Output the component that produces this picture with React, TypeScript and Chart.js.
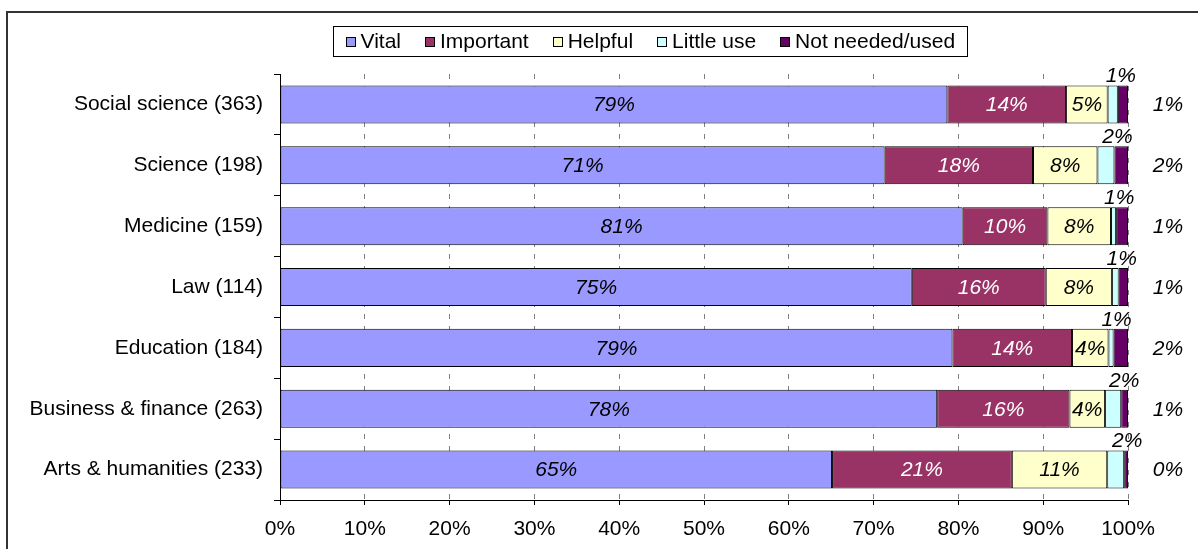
import { useEffect, useRef } from 'react';
import { Chart, registerables } from 'chart.js';

Chart.register(...registerables);

const categories = [
  'Social science (363)',
  'Science (198)',
  'Medicine (159)',
  'Law (114)',
  'Education (184)',
  'Business & finance (263)',
  'Arts & humanities (233)',
];
const seriesNames = ['Vital', 'Important', 'Helpful', 'Little use', 'Not needed/used'];
const vital = [78.7, 71.3, 80.5, 74.5, 79.3, 77.5, 65.1];
const important = [14.0, 17.5, 10.0, 15.8, 14.1, 15.6, 21.2];
const helpful = [4.9, 7.6, 7.5, 7.8, 4.3, 4.2, 11.25];
const littleUse = [1.2, 2.0, 0.6, 0.8, 0.6, 1.9, 2.0];
const notNeeded = [1.2, 1.6, 1.4, 1.1, 1.7, 0.8, 0.45];
const xTicks = [0, 10, 20, 30, 40, 50, 60, 70, 80, 90, 100];

const seriesValues = [vital, important, helpful, littleUse, notNeeded];
const seriesColors = ['#9999FF', '#993366', '#FFFFCC', '#CCFFFF', '#660066'];
const labelColors = ['#000000', '#FFFFFF', '#000000', '#000000', '#000000'];

const FONT = '"Liberation Sans", Arial, Helvetica, sans-serif';
const FONT_SIZE = 21;
const W = 1198;
const H = 549;

// White background plus the outer frame (top and left edges are visible).
const framePlugin = {
  id: 'frame',
  beforeDraw(chart: any) {
    const ctx = chart.ctx;
    ctx.save();
    ctx.fillStyle = '#ffffff';
    ctx.fillRect(0, 0, chart.width, chart.height);
    ctx.strokeStyle = '#333333';
    ctx.lineWidth = 2;
    ctx.strokeRect(7, 12, chart.width + 40, chart.height + 40);
    ctx.restore();
  },
};

// Boxed legend drawn across the top.
const legendPlugin = {
  id: 'boxLegend',
  afterDraw(chart: any) {
    const ctx = chart.ctx;
    ctx.save();
    ctx.font = `${FONT_SIZE}px ${FONT}`;
    const marker = 10;
    const markerGap = 5;
    const itemGap = 24;
    const padX = 12;
    const widths = seriesNames.map((n) => ctx.measureText(n).width);
    const content =
      widths.reduce((a, b) => a + b, 0) + seriesNames.length * (marker + markerGap) + (seriesNames.length - 1) * itemGap;
    const boxW = content + padX * 2;
    const cx = 649.5;
    const left = Math.round(cx - boxW / 2) + 0.5;
    const top = 26.5;
    const boxH = 30;
    ctx.strokeStyle = '#000000';
    ctx.lineWidth = 1;
    ctx.strokeRect(left, top, Math.round(boxW), boxH);
    let x = left + padX;
    const cy = top + boxH / 2;
    seriesNames.forEach((name, i) => {
      const mx = Math.round(x);
      const my = Math.round(cy - marker / 2);
      ctx.fillStyle = seriesColors[i];
      ctx.fillRect(mx, my, marker, marker);
      ctx.strokeStyle = '#000000';
      ctx.strokeRect(mx + 0.5, my + 0.5, marker - 1, marker - 1);
      x += marker + markerGap;
      ctx.fillStyle = '#000000';
      ctx.textBaseline = 'middle';
      ctx.textAlign = 'left';
      ctx.fillText(name, x, cy + 1);
      x += widths[i] + itemGap;
    });
    ctx.restore();
  },
};

// Percentage labels: inside for the first three series, above the bar for
// "Little use", and to the right of the plot for "Not needed/used".
const valueLabelPlugin = {
  id: 'valueLabels',
  afterDatasetsDraw(chart: any) {
    const ctx = chart.ctx;
    const area = chart.chartArea;
    ctx.save();
    ctx.font = `italic ${FONT_SIZE}px ${FONT}`;
    ctx.textAlign = 'center';
    ctx.textBaseline = 'middle';
    chart.data.datasets.forEach((ds: any, di: number) => {
      const meta = chart.getDatasetMeta(di);
      meta.data.forEach((bar: any, i: number) => {
        const v = ds.data[i] as number;
        const text = `${Math.round(v)}%`;
        const { x, y, base, height } = bar.getProps(['x', 'y', 'base', 'height'], true);
        ctx.fillStyle = labelColors[di];
        if (di < 3) {
          ctx.fillText(text, (x + base) / 2, y + 1);
        } else if (di === 3) {
          ctx.fillText(text, x + 3, y - height / 2 - 9);
        } else {
          ctx.fillText(text, area.right + 40, y + 1);
        }
      });
    });
    ctx.restore();
  },
};

export default function App() {
  const canvasRef = useRef<HTMLCanvasElement | null>(null);

  useEffect(() => {
    const canvas = canvasRef.current;
    if (!canvas) return;
    const chart = new Chart(canvas, {
      type: 'bar',
      data: {
        labels: categories,
        datasets: seriesNames.map((name, i) => ({
          label: name,
          data: seriesValues[i],
          backgroundColor: seriesColors[i],
          borderColor: '#000000',
          borderWidth: 1,
          borderSkipped: false,
          categoryPercentage: 0.625,
          barPercentage: 1,
        })),
      },
      options: {
        indexAxis: 'y',
        responsive: false,
        animation: false,
        events: [],
        layout: { padding: { top: 74, right: 70, bottom: 0, left: 0 } },
        plugins: {
          legend: { display: false },
          tooltip: { enabled: false },
          title: { display: false },
        },
        scales: {
          x: {
            stacked: true,
            min: 0,
            max: 100,
            afterBuildTicks: (scale: any) => {
              scale.ticks = xTicks.map((v) => ({ value: v }));
            },
            afterFit: (scale: any) => {
              scale.height = 49;
            },
            ticks: {
              color: '#000000',
              font: { family: FONT, size: FONT_SIZE },
              padding: 12,
              maxRotation: 0,
              callback: (v: any) => `${v}%`,
            },
            grid: {
              color: (c: any) => (c.index === 0 ? 'rgba(0,0,0,0)' : '#808080'),
              lineWidth: 1,
              drawTicks: true,
              tickLength: 5,
              tickColor: '#000000',
              tickBorderDash: [],
            },
            border: { display: true, color: '#000000', width: 1, dash: [5, 7] },
          },
          y: {
            stacked: true,
            afterFit: (scale: any) => {
              scale.width = 280;
            },
            ticks: {
              color: '#000000',
              font: { family: FONT, size: FONT_SIZE },
              padding: 11,
            },
            grid: {
              offset: true,
              drawOnChartArea: false,
              drawTicks: true,
              tickLength: 6,
              tickColor: '#000000',
              color: '#000000',
            },
            border: { display: true, color: '#000000', width: 1 },
          },
        },
      },
      plugins: [framePlugin, legendPlugin, valueLabelPlugin],
    } as any);
    return () => chart.destroy();
  }, []);

  return (
    <div style={{ position: 'absolute', left: 0, top: 0, width: W, height: H, background: '#fff' }}>
      <canvas ref={canvasRef} width={W} height={H} style={{ display: 'block' }} />
    </div>
  );
}
